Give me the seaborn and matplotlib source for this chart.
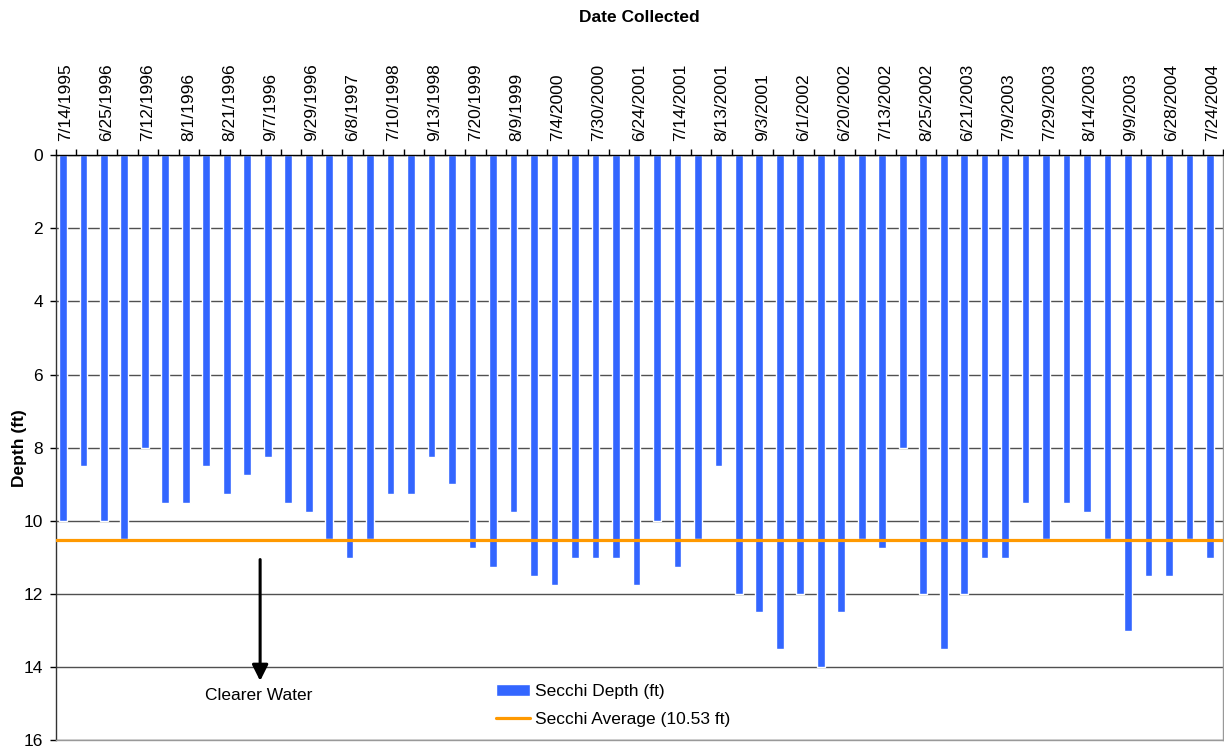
import matplotlib
matplotlib.use("Agg")
import matplotlib.pyplot as plt
import seaborn as sns
import pandas as pd
import numpy as np

# Dates printed on the axis (every second sample is labelled)
dates = ["7/14/1995", "6/25/1996", "7/12/1996", "8/1/1996", "8/21/1996",
         "9/7/1996", "9/29/1996", "6/8/1997", "7/10/1998", "9/13/1998",
         "7/20/1999", "8/9/1999", "7/4/2000", "7/30/2000", "6/24/2001",
         "7/14/2001", "8/13/2001", "9/3/2001", "6/1/2002", "6/20/2002",
         "7/13/2002", "8/25/2002", "6/21/2003", "7/9/2003", "7/29/2003",
         "8/14/2003", "9/9/2003", "6/28/2004", "7/24/2004"]

# Secchi depth per sample (ft)
depths = [10, 8.5, 10, 10.5, 8, 9.5, 9.5, 8.5, 9.25, 8.75,
          8.25, 9.5, 9.75, 10.5, 11, 10.5, 9.25, 9.25, 8.25, 9,
          10.75, 11.25, 9.75, 11.5, 11.75, 11, 11, 11, 11.75, 10,
          11.25, 10.5, 8.5, 12, 12.5, 13.5, 12, 14, 12.5, 10.5,
          10.75, 8, 12, 13.5, 12, 11, 11, 9.5, 10.5, 9.5,
          9.75, 10.5, 13, 11.5, 11.5, 10.5, 11]

average = 10.53

sns.set_style("white")
plt.rcParams["font.family"] = ["Liberation Sans", "DejaVu Sans"]
plt.rcParams["text.color"] = "black"
plt.rcParams["xtick.color"] = "black"
plt.rcParams["ytick.color"] = "black"
plt.rcParams["axes.labelcolor"] = "black"

fs = 12.5
n = len(depths)

df = pd.DataFrame({"sample": range(n), "depth": depths})

fig, ax = plt.subplots(figsize=(12.24, 7.46), dpi=100)
fig.subplots_adjust(left=0.0455, right=0.9994, top=0.792, bottom=0.0075)

sns.barplot(data=df, x="sample", y="depth", color="#3366FF", saturation=1,
            width=0.375, ax=ax, label="Secchi Depth (ft)", zorder=2)
ax.axhline(average, color="#FF9900", lw=2.3, zorder=3,
           label="Secchi Average (10.53 ft)")

# y axis: depth grows downward
ax.set_ylim(16, 0)
ax.set_yticks(range(0, 17, 2))
ax.grid(axis="y", color="#505050", lw=1)
ax.set_axisbelow(True)

# x axis on top, labels at category centres, ticks at boundaries
ax.set_xlim(-0.35, n - 0.35)
ax.xaxis.tick_top()
ax.set_xticks(np.arange(0, n, 2) + 0.15)
ax.set_xticklabels(dates, rotation=90, fontsize=fs)
ax.set_xticks(np.arange(n + 1) - 0.35, minor=True)
ax.tick_params(axis="x", which="major", length=0, pad=10.5,
               top=True, bottom=False, labeltop=True, labelbottom=False)
ax.tick_params(axis="x", which="minor", length=4, width=1, color="black",
               top=True, bottom=False)
ax.tick_params(axis="y", left=True, length=4, width=1, pad=5, labelsize=fs)

ax.set_xlabel("")
ax.set_ylabel("Depth (ft)", fontsize=fs, fontweight="bold")
ax.yaxis.set_label_coords(-0.025, 0.5)

for side, col in [("top", "black"), ("left", "#333333"),
                  ("right", "#999999"), ("bottom", "#999999")]:
    ax.spines[side].set_color(col)
    ax.spines[side].set_linewidth(1)

fig.text(0.5224, 0.977, "Date Collected", ha="center", va="center",
         fontsize=fs, fontweight="bold")

# Arrow annotation
ax.annotate("", xy=(9.63, 14.45), xytext=(9.63, 10.98),
            arrowprops=dict(arrowstyle="-|>", color="black", lw=2.2,
                            mutation_scale=24))
ax.text(9.58, 14.78, "Clearer Water", ha="center", va="center", fontsize=fs)

handles, labels = ax.get_legend_handles_labels()
order = [labels.index("Secchi Depth (ft)"), labels.index("Secchi Average (10.53 ft)")]
ax.legend([handles[i] for i in order], [labels[i] for i in order],
          loc="upper left", bbox_to_anchor=(0.377, 0.097), frameon=False,
          fontsize=fs, handlelength=1.95, handletextpad=0.3,
          labelspacing=0.75, borderpad=0, borderaxespad=0)

plt.savefig("out.png", dpi=100)
